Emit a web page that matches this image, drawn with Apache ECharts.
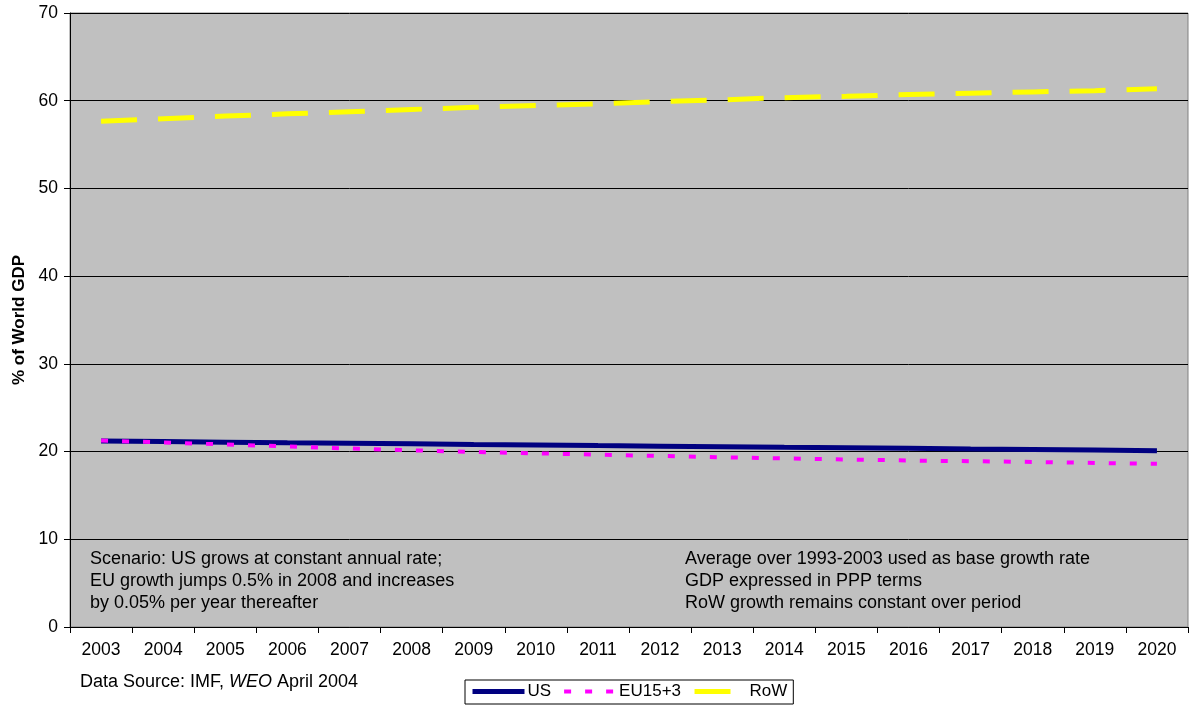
<!DOCTYPE html>
<html>
<head>
<meta charset="utf-8">
<title>Share of World GDP</title>
<script src="https://cdn.jsdelivr.net/npm/echarts@6/dist/echarts.min.js"></script>
<style>
  html, body { margin: 0; padding: 0; background: #ffffff; }
  #chart { width: 1190px; height: 708px; }
</style>
</head>
<body>
<div id="chart"></div>
<script>
// Projected shares of world GDP (PPP), percent
const years = ['2003','2004','2005','2006','2007','2008','2009','2010','2011','2012',
               '2013','2014','2015','2016','2017','2018','2019','2020'];
const usShare = [21.2, 21.14, 21.07, 21.0, 20.94, 20.88, 20.81, 20.75, 20.68, 20.62,
                 20.56, 20.49, 20.43, 20.37, 20.30, 20.24, 20.17, 20.08];
const euShare = [21.25, 21.05, 20.8, 20.6, 20.35, 20.15, 19.95, 19.8, 19.65, 19.5,
                 19.35, 19.22, 19.1, 18.98, 18.9, 18.82, 18.7, 18.6];
const rowShare = [57.65, 57.95, 58.25, 58.5, 58.75, 59.0, 59.25, 59.45, 59.65, 59.9,
                  60.1, 60.35, 60.5, 60.7, 60.85, 61.0, 61.15, 61.35];
const yTicks = { min: 0, max: 70, step: 10 };

const FONT = 'Liberation Sans, Arial, sans-serif';

const chart = echarts.init(document.getElementById('chart'), null, { renderer: 'canvas' });

chart.setOption({
  animation: false,
  backgroundColor: '#ffffff',
  textStyle: { fontFamily: FONT, color: '#000' },
  grid: {
    left: 70, top: 13, right: 2, bottom: 81,
    show: true, backgroundColor: '#c0c0c0', borderColor: '#808080', borderWidth: 1
  },
  xAxis: {
    type: 'category',
    data: years,
    boundaryGap: true,
    axisLine: { lineStyle: { color: '#000', width: 1 } },
    axisTick: { show: true, length: 6, interval: 0, lineStyle: { color: '#000' } },
    axisLabel: { interval: 0, margin: 14, fontSize: 17.5, color: '#000', fontFamily: FONT },
    splitLine: { show: false }
  },
  yAxis: {
    type: 'value',
    min: yTicks.min, max: yTicks.max, interval: yTicks.step,
    name: '% of World GDP',
    nameLocation: 'middle',
    nameGap: 42,
    nameRotate: 90,
    nameTextStyle: { fontSize: 17, fontWeight: 'bold', color: '#000', fontFamily: FONT },
    axisLine: { show: true, lineStyle: { color: '#000', width: 1 } },
    axisTick: { show: true, length: 6, lineStyle: { color: '#000' } },
    axisLabel: { margin: 12, fontSize: 17.5, color: '#000', fontFamily: FONT },
    splitLine: { show: true, lineStyle: { color: '#000', width: 1 } }
  },
  legend: {
    left: 465, top: 680,
    orient: 'horizontal',
    itemWidth: 52, itemHeight: 12, itemGap: 11,
    padding: [3, 6, 4, 5],
    borderColor: '#000', borderWidth: 1, backgroundColor: '#ffffff',
    itemStyle: { opacity: 0 },
    textStyle: { fontSize: 17, color: '#000', fontFamily: FONT, padding: [0, 0, 0, -2] },
    data: [
      { name: 'US', lineStyle: { width: 5 } },
      { name: 'EU15+3', lineStyle: { width: 4 } },
      { name: 'RoW', lineStyle: { width: 5 } }
    ]
  },
  series: [
    {
      name: 'US', type: 'line', data: usShare, symbol: 'none', z: 3,
      lineStyle: { color: '#000080', width: 5 }, itemStyle: { color: '#000080' }
    },
    {
      name: 'EU15+3', type: 'line', data: euShare, symbol: 'none', z: 4,
      lineStyle: { color: '#ff00ff', width: 4, type: [7, 14] }, itemStyle: { color: '#ff00ff' }
    },
    {
      name: 'RoW', type: 'line', data: rowShare, symbol: 'none', z: 3,
      lineStyle: { color: '#ffff00', width: 5, type: [36, 21] }, itemStyle: { color: '#ffff00' }
    }
  ],
  graphic: [
    {
      type: 'text', left: 90, top: 548, z: 10,
      style: {
        text: 'Scenario: US grows at constant annual rate;\nEU growth jumps 0.5% in 2008 and increases\nby 0.05% per year thereafter',
        font: '18px ' + FONT, fill: '#000', lineHeight: 22
      }
    },
    {
      type: 'text', left: 685, top: 548, z: 10,
      style: {
        text: 'Average over 1993-2003 used as base growth rate\nGDP expressed in PPP terms\nRoW growth remains constant over period',
        font: '18px ' + FONT, fill: '#000', lineHeight: 22
      }
    },
    {
      type: 'text', left: 80, top: 673, z: 10,
      style: {
        text: '{n|Data Source: IMF, }{i|WEO}{n| April 2004}',
        rich: {
          n: { fontSize: 18, fontFamily: FONT, fill: '#000', color: '#000' },
          i: { fontSize: 18, fontFamily: FONT, fontStyle: 'italic', fill: '#000', color: '#000' }
        }
      }
    }
  ]
});
</script>
</body>
</html>
